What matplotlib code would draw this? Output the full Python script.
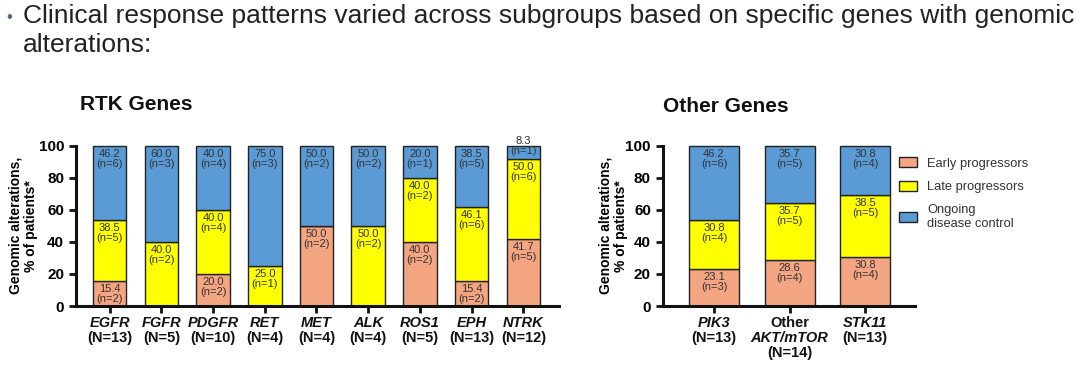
import matplotlib.pyplot as plt
import numpy as np

plt.rcParams['font.family'] = ['Liberation Sans', 'DejaVu Sans']

# RTK genes
rtk_genes = ['EGFR', 'FGFR', 'PDGFR', 'RET', 'MET', 'ALK', 'ROS1', 'EPH', 'NTRK']
rtk_totals = [13, 5, 10, 4, 4, 4, 5, 13, 12]
rtk_early = [15.4, 0, 20.0, 0, 50.0, 0, 40.0, 15.4, 41.7]
rtk_early_n = [2, 0, 2, 0, 2, 0, 2, 2, 5]
rtk_late = [38.5, 40.0, 40.0, 25.0, 0, 50.0, 40.0, 46.1, 50.0]
rtk_late_n = [5, 2, 4, 1, 0, 2, 2, 6, 6]
rtk_ongoing = [46.2, 60.0, 40.0, 75.0, 50.0, 50.0, 20.0, 38.5, 8.3]
rtk_ongoing_n = [6, 3, 4, 3, 2, 2, 1, 5, 1]

# Other genes
oth_genes = [('', 'PIK3'), ('Other', 'AKT/mTOR'), ('', 'STK11')]
oth_totals = [13, 14, 13]
oth_early = [23.1, 28.6, 30.8]
oth_early_n = [3, 4, 4]
oth_late = [30.8, 35.7, 38.5]
oth_late_n = [4, 5, 5]
oth_ongoing = [46.2, 35.7, 30.8]
oth_ongoing_n = [6, 5, 4]

c_early = '#F4A582'
c_late = '#FFFF00'
c_ongoing = '#5B9BD5'
labels = ['Early progressors', 'Late progressors', 'Ongoing\ndisease control']
txt_col = '#333333'


# this draws one stacked panel with its labels inside the segments
def draw_panel(ax, early, early_n, late, late_n, ongoing, ongoing_n, width):
    x = np.arange(len(early))
    early = np.array(early)
    late = np.array(late)
    ongoing = np.array(ongoing)
    bars = []
    bottom = np.zeros(len(x))
    for vals, ns, col in [(early, early_n, c_early), (late, late_n, c_late), (ongoing, ongoing_n, c_ongoing)]:
        b = ax.bar(x, vals, width, bottom=bottom, color=col, edgecolor='#222222', linewidth=1.0, clip_on=False, zorder=2)
        bars.append(b)
        for xi, v, n, b0 in zip(x, vals, ns, bottom):
            if v <= 0:
                continue
            top = b0 + v
            if v < 10:
                ax.annotate('%.1f\n(n=%d)' % (v, n), (xi, top), ha='center', va='center',
                            fontsize=8, color=txt_col, linespacing=1.0, zorder=3)
            else:
                ax.annotate('%.1f\n(n=%d)' % (v, n), (xi, top), xytext=(0, -3), textcoords='offset pixels',
                            ha='center', va='top', fontsize=8, color=txt_col, linespacing=1.0, zorder=3)
        bottom = bottom + vals
    ax.set_ylim(0, 100)
    ax.set_yticks([0, 20, 40, 60, 80, 100])
    ax.set_xticks(x)
    ax.set_xticklabels([''] * len(x))
    for s in ['top', 'right']:
        ax.spines[s].set_visible(False)
    for s in ['left', 'bottom']:
        ax.spines[s].set_linewidth(2.2)
        ax.spines[s].set_color('#111111')
    ax.tick_params(axis='both', width=2, length=5, color='#111111')
    for lab in ax.get_yticklabels():
        lab.set_fontweight('bold')
        lab.set_fontsize(11)
    ax.set_ylabel('Genomic alterations,\n% of patients*', fontsize=10, fontweight='bold', linespacing=1.15)
    return bars


fig = plt.figure(figsize=(10.8, 3.65), dpi=100)

fig.text(0.006, 0.952, '\u2022', fontsize=12, color='#4a6a8a', va='center')
fig.text(0.021, 0.955, 'Clinical response patterns varied across subgroups based on specific genes with genomic',
         fontsize=19, color='#222222', va='center')
fig.text(0.021, 0.876, 'alterations:', fontsize=19, color='#222222', va='center')

ax1 = fig.add_axes([0.0704, 0.1616, 0.4472, 0.4392])
draw_panel(ax1, rtk_early, rtk_early_n, rtk_late, rtk_late_n, rtk_ongoing, rtk_ongoing_n, 0.65)
ax1.set_xlim(-0.65, 8.69)
for xi, (g, n) in enumerate(zip(rtk_genes, rtk_totals)):
    ax1.annotate(g, (xi, 0), xycoords=('data', 'axes fraction'), xytext=(0, -10), textcoords='offset pixels',
                 ha='center', va='top', fontsize=10.5, fontweight='bold', fontstyle='italic', color='#111111')
    ax1.annotate('(N=%d)' % n, (xi, 0), xycoords=('data', 'axes fraction'), xytext=(0, -25),
                 textcoords='offset pixels', ha='center', va='top', fontsize=10.5, fontweight='bold',
                 color='#111111')
ax1.yaxis.set_label_coords(-0.078, 0.5)
fig.text(0.074, 0.715, 'RTK Genes', fontsize=15, fontweight='bold', color='#111111', va='center')

ax2 = fig.add_axes([0.6136, 0.1616, 0.2336, 0.4392])
bars = draw_panel(ax2, oth_early, oth_early_n, oth_late, oth_late_n, oth_ongoing, oth_ongoing_n, 0.66)
ax2.set_xlim(-0.68, 2.66)
for xi, ((pre, g), n) in enumerate(zip(oth_genes, oth_totals)):
    off = -10
    if pre:
        ax2.annotate(pre, (xi, 0), xycoords=('data', 'axes fraction'), xytext=(0, off), textcoords='offset pixels',
                     ha='center', va='top', fontsize=10.5, fontweight='bold', color='#111111')
        off -= 15
    ax2.annotate(g, (xi, 0), xycoords=('data', 'axes fraction'), xytext=(0, off), textcoords='offset pixels',
                 ha='center', va='top', fontsize=10.5, fontweight='bold', fontstyle='italic', color='#111111')
    off -= 15
    ax2.annotate('(N=%d)' % n, (xi, 0), xycoords=('data', 'axes fraction'), xytext=(0, off),
                 textcoords='offset pixels', ha='center', va='top', fontsize=10.5, fontweight='bold',
                 color='#111111')
ax2.yaxis.set_label_coords(-0.138, 0.5)
fig.text(0.614, 0.708, 'Other Genes', fontsize=15, fontweight='bold', color='#111111', va='center')

leg = ax2.legend([b[0] for b in bars], labels, loc='upper left', bbox_to_anchor=(0.89, 1.0), frameon=False,
                 fontsize=9.3, handlelength=1.4, handleheight=0.8, labelspacing=0.85, handletextpad=0.8,
                 labelcolor='#333333')

fig.savefig('out.png', dpi=100)
